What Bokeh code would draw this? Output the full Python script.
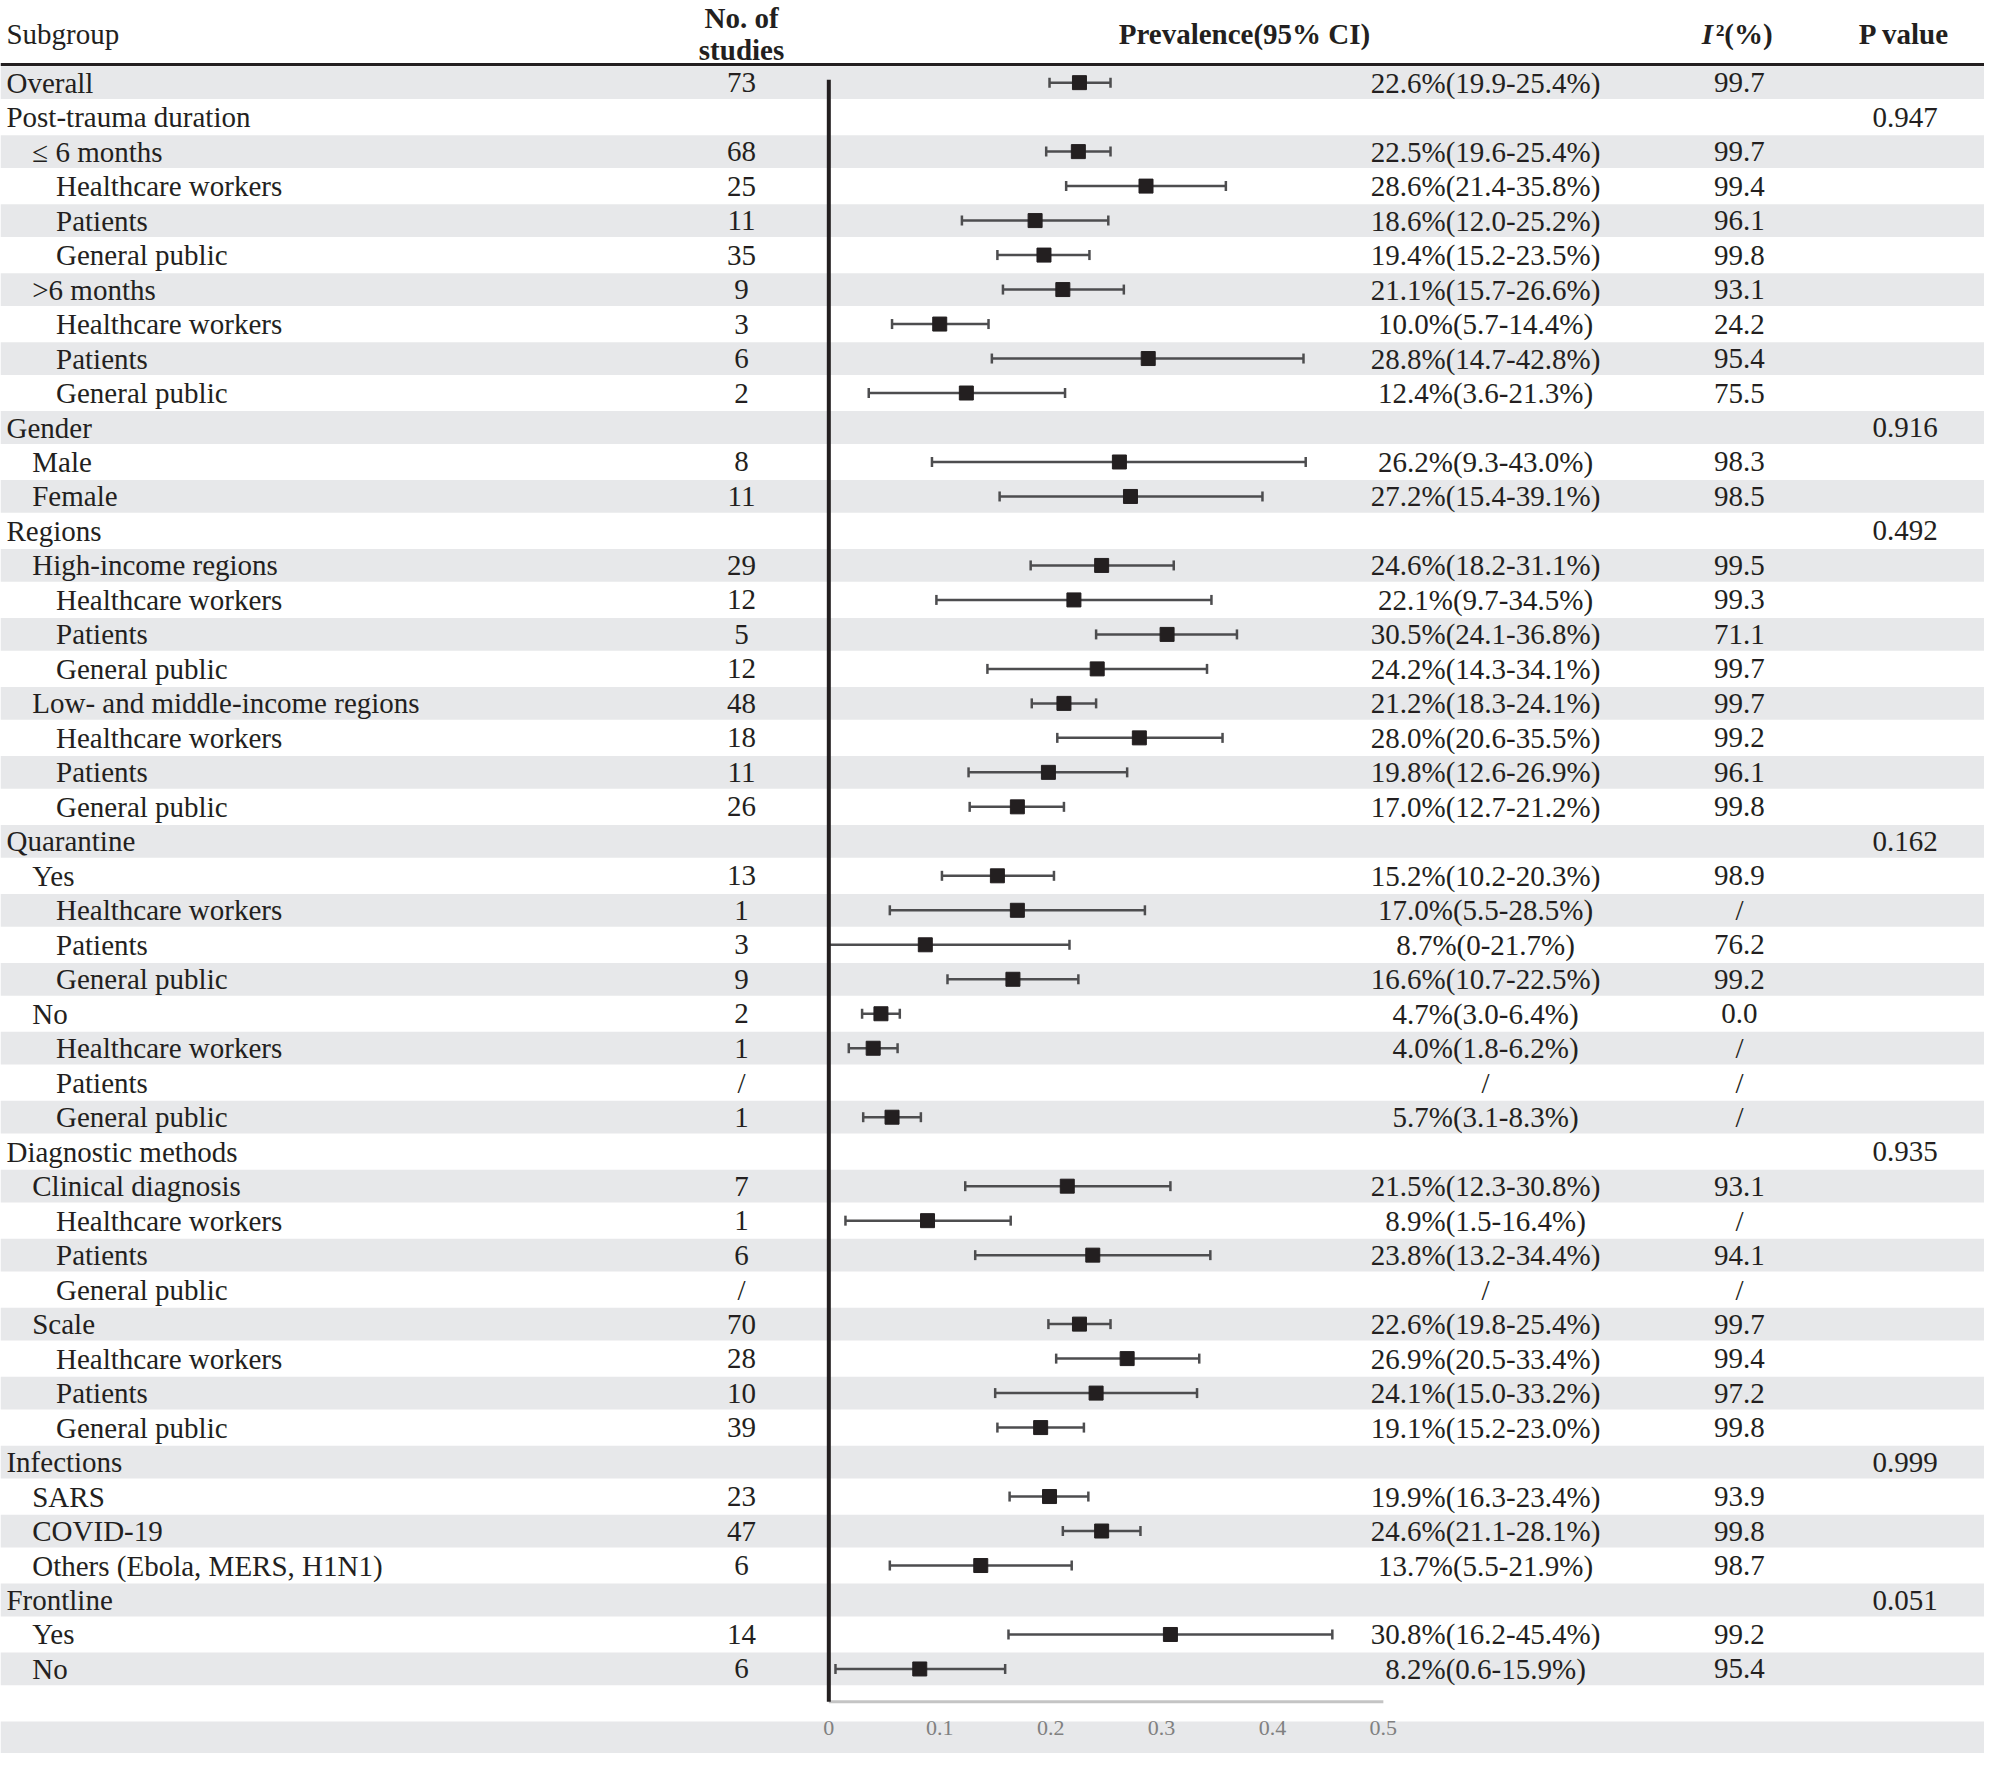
from bokeh.plotting import figure
from bokeh.models import Range1d, ColumnDataSource
from bokeh.core.properties import value
from bokeh.embed import file_html
from bokeh.resources import INLINE
import math

# ---------------- data ----------------
labels = [
    "Overall", "Post-trauma duration", "\u2264 6 months", "Healthcare workers", "Patients", "General public",
    ">6 months", "Healthcare workers", "Patients", "General public",
    "Gender", "Male", "Female",
    "Regions", "High-income regions", "Healthcare workers", "Patients", "General public",
    "Low- and middle-income regions", "Healthcare workers", "Patients", "General public",
    "Quarantine", "Yes", "Healthcare workers", "Patients", "General public",
    "No", "Healthcare workers", "Patients", "General public",
    "Diagnostic methods", "Clinical diagnosis", "Healthcare workers", "Patients", "General public",
    "Scale", "Healthcare workers", "Patients", "General public",
    "Infections", "SARS", "COVID-19", "Others (Ebola, MERS, H1N1)",
    "Frontline", "Yes", "No",
]
levels = [
    0, 0, 1, 2, 2, 2,
    1, 2, 2, 2,
    0, 1, 1,
    0, 1, 2, 2, 2,
    1, 2, 2, 2,
    0, 1, 2, 2, 2,
    1, 2, 2, 2,
    0, 1, 2, 2, 2,
    1, 2, 2, 2,
    0, 1, 1, 1,
    0, 1, 1,
]
studies = [
    "73", "", "68", "25", "11", "35",
    "9", "3", "6", "2",
    "", "8", "11",
    "", "29", "12", "5", "12",
    "48", "18", "11", "26",
    "", "13", "1", "3", "9",
    "2", "1", "/", "1",
    "", "7", "1", "6", "/",
    "70", "28", "10", "39",
    "", "23", "47", "6",
    "", "14", "6",
]
N = float("nan")
est = [
    22.6, N, 22.5, 28.6, 18.6, 19.4,
    21.1, 10.0, 28.8, 12.4,
    N, 26.2, 27.2,
    N, 24.6, 22.1, 30.5, 24.2,
    21.2, 28.0, 19.8, 17.0,
    N, 15.2, 17.0, 8.7, 16.6,
    4.7, 4.0, N, 5.7,
    N, 21.5, 8.9, 23.8, N,
    22.6, 26.9, 24.1, 19.1,
    N, 19.9, 24.6, 13.7,
    N, 30.8, 8.2,
]
lower = [
    19.9, N, 19.6, 21.4, 12.0, 15.2,
    15.7, 5.7, 14.7, 3.6,
    N, 9.3, 15.4,
    N, 18.2, 9.7, 24.1, 14.3,
    18.3, 20.6, 12.6, 12.7,
    N, 10.2, 5.5, 0.0, 10.7,
    3.0, 1.8, N, 3.1,
    N, 12.3, 1.5, 13.2, N,
    19.8, 20.5, 15.0, 15.2,
    N, 16.3, 21.1, 5.5,
    N, 16.2, 0.6,
]
upper = [
    25.4, N, 25.4, 35.8, 25.2, 23.5,
    26.6, 14.4, 42.8, 21.3,
    N, 43.0, 39.1,
    N, 31.1, 34.5, 36.8, 34.1,
    24.1, 35.5, 26.9, 21.2,
    N, 20.3, 28.5, 21.7, 22.5,
    6.4, 6.2, N, 8.3,
    N, 30.8, 16.4, 34.4, N,
    25.4, 33.4, 33.2, 23.0,
    N, 23.4, 28.1, 21.9,
    N, 45.4, 15.9,
]
ci_text = [
    "22.6%(19.9-25.4%)", "", "22.5%(19.6-25.4%)", "28.6%(21.4-35.8%)", "18.6%(12.0-25.2%)", "19.4%(15.2-23.5%)",
    "21.1%(15.7-26.6%)", "10.0%(5.7-14.4%)", "28.8%(14.7-42.8%)", "12.4%(3.6-21.3%)",
    "", "26.2%(9.3-43.0%)", "27.2%(15.4-39.1%)",
    "", "24.6%(18.2-31.1%)", "22.1%(9.7-34.5%)", "30.5%(24.1-36.8%)", "24.2%(14.3-34.1%)",
    "21.2%(18.3-24.1%)", "28.0%(20.6-35.5%)", "19.8%(12.6-26.9%)", "17.0%(12.7-21.2%)",
    "", "15.2%(10.2-20.3%)", "17.0%(5.5-28.5%)", "8.7%(0-21.7%)", "16.6%(10.7-22.5%)",
    "4.7%(3.0-6.4%)", "4.0%(1.8-6.2%)", "/", "5.7%(3.1-8.3%)",
    "", "21.5%(12.3-30.8%)", "8.9%(1.5-16.4%)", "23.8%(13.2-34.4%)", "/",
    "22.6%(19.8-25.4%)", "26.9%(20.5-33.4%)", "24.1%(15.0-33.2%)", "19.1%(15.2-23.0%)",
    "", "19.9%(16.3-23.4%)", "24.6%(21.1-28.1%)", "13.7%(5.5-21.9%)",
    "", "30.8%(16.2-45.4%)", "8.2%(0.6-15.9%)",
]
i2 = [
    "99.7", "", "99.7", "99.4", "96.1", "99.8",
    "93.1", "24.2", "95.4", "75.5",
    "", "98.3", "98.5",
    "", "99.5", "99.3", "71.1", "99.7",
    "99.7", "99.2", "96.1", "99.8",
    "", "98.9", "/", "76.2", "99.2",
    "0.0", "/", "/", "/",
    "", "93.1", "/", "94.1", "/",
    "99.7", "99.4", "97.2", "99.8",
    "", "93.9", "99.8", "98.7",
    "", "99.2", "95.4",
]
pvals = [
    "", "0.947", "", "", "", "",
    "", "", "", "",
    "0.916", "", "",
    "0.492", "", "", "", "",
    "", "", "", "",
    "0.162", "", "", "", "",
    "", "", "", "",
    "0.935", "", "", "", "",
    "", "", "", "",
    "0.999", "", "", "",
    "0.051", "", "",
]
tick_values = [0, 0.1, 0.2, 0.3, 0.4, 0.5]
tick_labels = ["0", "0.1", "0.2", "0.3", "0.4", "0.5"]

# ---------------- geometry (reference pixel frame 2000 x 1769) ----------------
W, H = 1984, 1753
REF_W, REF_H = 2000, 1769
K = 0.1 / 111.8            # data units per reference pixel (x)
X0 = 835                   # reference pixel of x = 0
ROW = 34.8                 # reference pixel height of one row
YR1 = 82.9                 # reference pixel of row 1 centre


def px(xpix):
    """reference x pixel -> data x"""
    return (xpix - X0) * K


def ry(ypix):
    """reference y pixel -> row coordinate"""
    return 1 + (ypix - YR1) / ROW


xs, xe = px(0), px(REF_W)
p = figure(width=W, height=H, output_backend="svg", toolbar_location=None, tools="",
           x_range=Range1d(xs, xe), y_range=Range1d(ry(REF_H), ry(0)),
           x_axis_location=None, y_axis_location=None, min_border=0)
p.outline_line_color = None
p.grid.visible = False
p.background_fill_color = "white"

n = len(labels)
rows = list(range(1, n + 1))

FONT = value("Liberation Serif")
TXT = "#231F20"
FS = "29px"
HFS = "29px"

# zebra bands
band_rows = [r for r in rows if r % 2 == 1] + [n + 2]
p.hbar(y=band_rows, height=0.95, left=xs, right=xe, color="#E7E8EA", line_color=None)

# header
p.segment(x0=[xs], x1=[xe], y0=[ry(64.5)], y1=[ry(64.5)], line_color=TXT, line_width=3)
p.text(x=[px(6)], y=[ry(34)], text=["Subgroup"], text_font=FONT, text_font_size=FS,
       text_color=TXT, text_align="left", text_baseline="middle")
p.text(x=[px(747), px(747)], y=[ry(17.5), ry(50)], text=["No. of", "studies"], text_font=FONT,
       text_font_size=HFS, text_font_style="bold", text_color=TXT, text_align="center",
       text_baseline="middle")
p.text(x=[px(1254)], y=[ry(34)], text=["Prevalence(95% CI)"], text_font=FONT, text_font_size=HFS,
       text_font_style="bold", text_color=TXT, text_align="center", text_baseline="middle")
p.text(x=[px(1715)], y=[ry(34)], text=["I"], text_font=FONT, text_font_size=HFS,
       text_font_style="bold italic", text_color=TXT, text_align="left", text_baseline="middle")
p.text(x=[px(1729)], y=[ry(34)], text=["\u00b2(%)"], text_font=FONT, text_font_size=HFS,
       text_font_style="bold", text_color=TXT, text_align="left", text_baseline="middle")
p.text(x=[px(1919)], y=[ry(34)], text=["P value"], text_font=FONT, text_font_size=HFS,
       text_font_style="bold", text_color=TXT, text_align="center", text_baseline="middle")

# text columns
indent = {0: px(6), 1: px(32), 2: px(56)}
label_src = ColumnDataSource(dict(x=[indent[l] for l in levels], y=rows, t=labels))
p.text(x="x", y="y", text="t", source=label_src, text_font=FONT, text_font_size=FS,
       text_color=TXT, text_align="left", text_baseline="middle")
p.text(x=[px(747)] * n, y=rows, text=studies, text_font=FONT, text_font_size=FS,
       text_color=TXT, text_align="center", text_baseline="middle")
p.text(x=[px(1497)] * n, y=rows, text=ci_text, text_font=FONT, text_font_size=FS,
       text_color=TXT, text_align="center", text_baseline="middle")
p.text(x=[px(1753)] * n, y=rows, text=i2, text_font=FONT, text_font_size=FS,
       text_color=TXT, text_align="center", text_baseline="middle")
p.text(x=[px(1920)] * n, y=rows, text=pvals, text_font=FONT, text_font_size=FS,
       text_color=TXT, text_align="center", text_baseline="middle")

# forest marks
ok = [i for i in range(n) if not math.isnan(est[i])]
src = ColumnDataSource(dict(
    y=[rows[i] for i in ok],
    e=[est[i] / 100 for i in ok],
    lo=[lower[i] / 100 for i in ok],
    hi=[upper[i] / 100 for i in ok],
    ct=[rows[i] - 0.145 for i in ok],
    cb=[rows[i] + 0.145 for i in ok],
))
WH = "#4D4D4F"
p.segment(x0="lo", x1="hi", y0="y", y1="y", source=src, line_color=WH, line_width=2.5)
p.segment(x0="lo", x1="lo", y0="ct", y1="cb", source=src, line_color=WH, line_width=2.5)
p.segment(x0="hi", x1="hi", y0="ct", y1="cb", source=src, line_color=WH, line_width=2.5)
p.scatter(x="e", y="y", source=src, marker="square", size=14, color=TXT)

# axis (zero line, baseline, tick labels)
axis_y = ry(1716.7)
p.segment(x0=[0], x1=[0.5], y0=[axis_y], y1=[axis_y], line_color="#C4C4C4", line_width=3)
p.segment(x0=[0], x1=[0], y0=[ry(80)], y1=[axis_y], line_color=TXT, line_width=4)
p.text(x=tick_values, y=[ry(1743)] * len(tick_values), text=tick_labels, text_font=FONT,
       text_font_size="22px", text_color="#808080", text_align="center", text_baseline="middle")

open("out.html", "w").write(file_html(p, INLINE))
